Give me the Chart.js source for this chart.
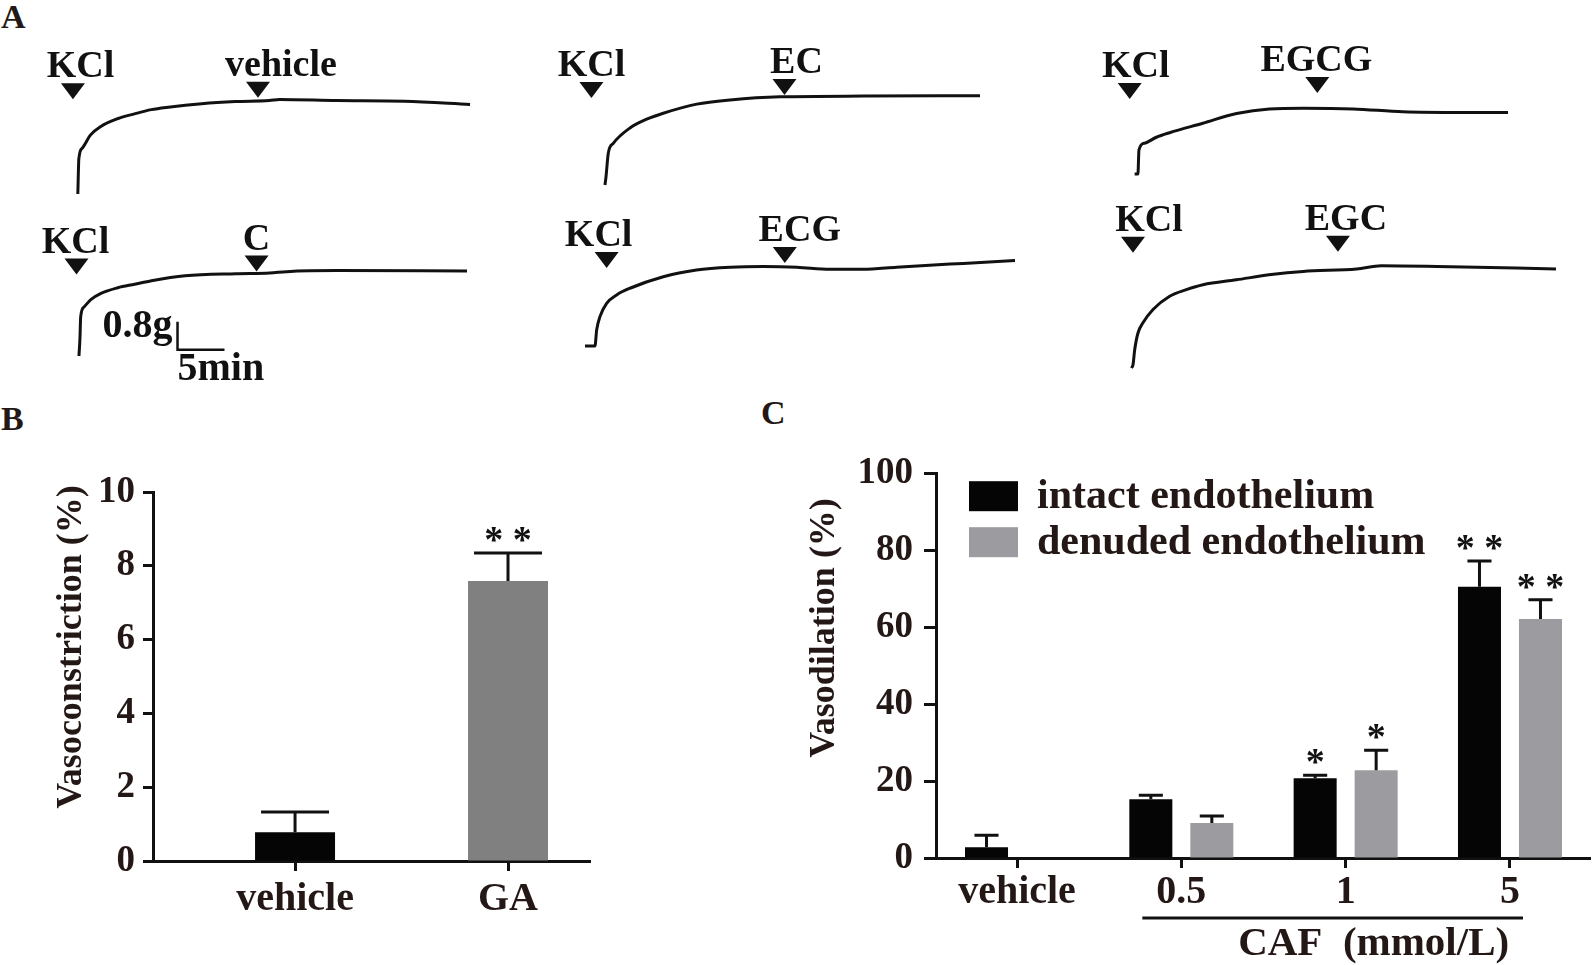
<!DOCTYPE html>
<html>
<head>
<meta charset="utf-8">
<title>Vascular tension traces and vasodilation</title>
<script src="https://cdn.jsdelivr.net/npm/chart.js@4.4.1/dist/chart.umd.min.js"></script>
<style>
  html, body { margin: 0; padding: 0; background: #fff; }
  body { width: 1594px; height: 965px; position: relative; overflow: hidden; }
  canvas { position: absolute; }
  .panel { position: absolute; font: bold 34px/34px 'Liberation Serif', 'Times New Roman', serif; color: #231815; }
</style>
</head>
<body>
<div class="panel" style="left:1px;top:0px">A</div>
<div class="panel" style="left:1px;top:402px">B</div>
<div class="panel" style="left:761px;top:396px">C</div>

<canvas id="trace-vehicle"></canvas>
<canvas id="trace-c"></canvas>
<canvas id="trace-ec"></canvas>
<canvas id="trace-ecg"></canvas>
<canvas id="trace-egcg"></canvas>
<canvas id="trace-egc"></canvas>
<canvas id="bar-b" width="600" height="525" style="left:0px;top:440px"></canvas>
<canvas id="bar-c" width="854" height="525" style="left:740px;top:440px"></canvas>

<script>
// Panel A: isometric tension traces, time (min) after KCl vs tension (g)
const vehicleTime    = [0, 0.11, 0.47, 1.36, 2.45, 4.23, 6.03, 7.83, 9.64, 13.2, 16.8, 20.4, 21.5, 27.6, 34.8, 41.8];
const vehicleTension = [0, 1.01, 1.31, 1.69, 1.93, 2.15, 2.29, 2.41, 2.48, 2.58, 2.64, 2.67, 2.70, 2.67, 2.65, 2.56];
const cTime    = [0, 0.11, 0.18, 0.54, 1.26, 2.34, 4.13, 5.93, 7.72, 11.3, 16.7, 20.3, 22.1, 27.5, 41.3];
const cTension = [0, 0.53, 1.11, 1.40, 1.61, 1.79, 1.95, 2.05, 2.15, 2.29, 2.35, 2.37, 2.41, 2.44, 2.43];
const ecTime    = [0, 0.11, 0.35, 0.88, 2.66, 4.44, 6.20, 9.76, 13.3, 18.6, 27.5, 39.9];
const ecTension = [0, 0.24, 0.91, 1.19, 1.63, 1.88, 2.05, 2.31, 2.43, 2.52, 2.54, 2.55];
const ecgTime    = [-1.06, 0, 0.18, 0.53, 1.24, 2.31, 3.72, 7.27, 10.8, 14.4, 17.9, 21.5, 25.0, 28.5, 32.1, 35.6, 39.2, 44.7];
const ecgTension = [0, 0, 0.46, 0.84, 1.22, 1.46, 1.65, 1.98, 2.17, 2.25, 2.27, 2.25, 2.19, 2.19, 2.25, 2.31, 2.36, 2.44];
const egcgTime    = [-0.35, 0, 0.11, 0.71, 1.96, 3.37, 6.91, 10.5, 14.0, 17.6, 22.9, 28.2, 34.6, 39.4];
const egcgTension = [0, 0, 0.69, 0.88, 1.05, 1.18, 1.45, 1.73, 1.86, 1.88, 1.86, 1.78, 1.76, 1.76];
const egcTime    = [-0.17, 0, 0.18, 0.53, 1.06, 2.13, 3.90, 5.68, 7.45, 11.0, 14.7, 18.1, 23.8, 26.4, 32.3, 45.0];
const egcTension = [0, 0.09, 0.52, 1.00, 1.29, 1.67, 2.05, 2.24, 2.38, 2.52, 2.67, 2.76, 2.83, 2.92, 2.90, 2.83];

// drug additions (label, minutes)
const vehicleMarks = ['KCl', 'vehicle']; const vehicleMarkTimes = [-0.52, 19.2];
const cMarks = ['KCl', 'C'];             const cMarkTimes = [-0.26, 18.9];
const ecMarks = ['KCl', 'EC'];           const ecMarkTimes = [-1.44, 19.1];
const ecgMarks = ['KCl', 'ECG'];         const ecgMarkTimes = [1.24, 20.2];
const egcgMarks = ['KCl', 'EGCG'];       const egcgMarkTimes = [-0.88, 19.1];
const egcMarks = ['KCl', 'EGC'];         const egcMarkTimes = [0, 21.8];

// scale bar
const scaleBarG = 0.8;
const scaleBarMin = 5;

// Panel B
const bCategories = ['vehicle', 'GA'];
const bMeans = [0.78, 7.59];
const bErrors = [0.55, 0.76];
const bSig = ['', '* *'];
const bTicks = [0, 2, 4, 6, 8, 10];

// Panel C
const cCategories = ['vehicle', '0.5', '1', '5'];
const intactMeans = [2.8, 15.3, 20.7, 70.5];
const intactErrors = [3.1, 1.0, 0.8, 6.7];
const intactSig = ['', '', '*', '* *'];
const denudedMeans = [null, 9.1, 22.8, 62.1];
const denudedErrors = [null, 1.8, 5.2, 5.0];
const denudedSig = ['', '', '*', '* *'];
const cTicks = [0, 20, 40, 60, 80, 100];

// ---- styling / layout ----
const INK = '#111111';
const TEXT = '#231815';
const SERIF = "'Liberation Serif', 'Times New Roman', serif";
const PX_PER_MIN = 47 / scaleBarMin;
const PX_PER_G = 28 / scaleBarG;

function traceChart(id, time, tension, marks, markTimes, lay, extra) {
  const canvas = document.getElementById(id);
  const padL = 100, padT = 170, padB = 45;
  const w = padL + Math.max(...time) * PX_PER_MIN + 30;
  const h = padT + padB;
  const left = lay.ox - padL, top = lay.oy - padT;
  canvas.width = w; canvas.height = h;
  canvas.style.left = left + 'px';
  canvas.style.top = top + 'px';

  const markers = {
    id: 'markers',
    afterDraw(chart) {
      const ctx = chart.ctx, x = chart.scales.x;
      ctx.save();
      ctx.fillStyle = INK;
      ctx.font = 'bold 38px ' + SERIF;
      ctx.textAlign = 'center';
      ctx.textBaseline = 'alphabetic';
      marks.forEach((label, i) => {
        const px = x.getPixelForValue(markTimes[i]);
        const tip = lay.tip[i] - top;
        ctx.beginPath();
        ctx.moveTo(px - 12, tip - 16);
        ctx.lineTo(px + 12, tip - 16);
        ctx.lineTo(px, tip);
        ctx.closePath();
        ctx.fill();
        ctx.fillText(label, px + lay.dx[i], tip - 22);
      });
      ctx.restore();
    }
  };

  return new Chart(canvas, {
    type: 'line',
    data: {
      datasets: [{
        data: time.map((t, i) => ({ x: t, y: tension[i] })),
        borderColor: INK,
        borderWidth: 3,
        pointRadius: 0,
        cubicInterpolationMode: 'monotone',
        fill: false
      }]
    },
    options: {
      responsive: false,
      animation: false,
      events: [],
      layout: { padding: 0 },
      plugins: { legend: { display: false }, tooltip: { enabled: false } },
      scales: {
        x: { type: 'linear', display: false, min: -padL / PX_PER_MIN, max: (w - padL) / PX_PER_MIN },
        y: { type: 'linear', display: false, min: -padB / PX_PER_G, max: padT / PX_PER_G }
      }
    },
    plugins: extra ? [markers, extra] : [markers]
  });
}

// 0.8 g / 5 min calibration bar, placed on the catechin trace
const scaleBar = {
  id: 'scaleBar',
  afterDraw(chart) {
    const { ctx, scales: { x, y } } = chart;
    const t0 = 10.49, g0 = 0.18;
    const x0 = x.getPixelForValue(t0), x1 = x.getPixelForValue(t0 + scaleBarMin);
    const y0 = y.getPixelForValue(g0), y1 = y.getPixelForValue(g0 + scaleBarG);
    ctx.save();
    ctx.strokeStyle = INK;
    ctx.lineWidth = 2.5;
    ctx.beginPath();
    ctx.moveTo(x0, y1); ctx.lineTo(x0, y0); ctx.lineTo(x1, y0);
    ctx.stroke();
    ctx.fillStyle = INK;
    ctx.font = 'bold 40px ' + SERIF;
    ctx.textBaseline = 'alphabetic';
    ctx.textAlign = 'right';
    ctx.fillText(scaleBarG + 'g', x0 - 5, y1 + 15);
    ctx.textAlign = 'left';
    ctx.fillText(scaleBarMin + 'min', x0, y0 + 30);
    ctx.restore();
  }
};

traceChart('trace-vehicle', vehicleTime, vehicleTension, vehicleMarks, vehicleMarkTimes,
  { ox: 78.4, oy: 194.3, tip: [99.5, 98], dx: [7.5, 23] });
traceChart('trace-c', cTime, cTension, cMarks, cMarkTimes,
  { ox: 79.4, oy: 356.4, tip: [275, 272], dx: [-1, 0] }, scaleBar);
traceChart('trace-ec', ecTime, ecTension, ecMarks, ecMarkTimes,
  { ox: 605, oy: 185, tip: [98, 95], dx: [0, 12] });
traceChart('trace-ecg', ecgTime, ecgTension, ecgMarks, ecgMarkTimes,
  { ox: 595, oy: 346, tip: [268, 263], dx: [-8, 15] });
traceChart('trace-egcg', egcgTime, egcgTension, egcgMarks, egcgMarkTimes,
  { ox: 1138.3, oy: 174, tip: [99, 93], dx: [6, -1] });
traceChart('trace-egc', egcTime, egcTension, egcMarks, egcMarkTimes,
  { ox: 1133.3, oy: 368.3, tip: [253, 252], dx: [16, 8] });

// ---- bar panels ----
const errorBars = {
  id: 'errorBars',
  afterDatasetsDraw(chart) {
    const { ctx, scales: { y } } = chart;
    ctx.save();
    chart.data.datasets.forEach((ds, d) => {
      const meta = chart.getDatasetMeta(d);
      meta.data.forEach((bar, i) => {
        const v = ds.data[i].y;
        if (v == null) return;
        const top = y.getPixelForValue(v + ds.errors[i]);
        const half = bar.width * ds.capRatio / 2;
        ctx.strokeStyle = INK;
        ctx.lineWidth = 3;
        ctx.beginPath();
        ctx.moveTo(bar.x, bar.y);
        ctx.lineTo(bar.x, top);
        ctx.moveTo(bar.x - half, top);
        ctx.lineTo(bar.x + half, top);
        ctx.stroke();
        if (ds.sig[i]) {
          ctx.fillStyle = INK;
          ctx.font = 'bold 38px ' + SERIF;
          ctx.textAlign = 'center';
          ctx.textBaseline = 'alphabetic';
          ctx.fillText(ds.sig[i], bar.x, top - 1);
        }
      });
    });
    ctx.restore();
  }
};

function yTitle(text, cx, cy) {
  return {
    id: 'yTitle',
    afterDraw(chart) {
      const ctx = chart.ctx;
      ctx.save();
      ctx.translate(cx, cy);
      ctx.rotate(-Math.PI / 2);
      ctx.fillStyle = TEXT;
      ctx.font = 'bold 36px ' + SERIF;
      ctx.textAlign = 'center';
      ctx.textBaseline = 'middle';
      ctx.fillText(text, 0, 0);
      ctx.restore();
    }
  };
}

function axisOpts(extra) {
  return Object.assign({
    border: { display: true, width: 3, color: INK },
    grid: { display: true, drawOnChartArea: false, drawTicks: true, offset: false, tickWidth: 3, tickColor: INK },
  }, extra);
}

const tickFont = { family: SERIF, weight: 'bold', size: 37 };
const catFont = { family: SERIF, weight: 'bold', size: 40 };

new Chart(document.getElementById('bar-b'), {
  type: 'bar',
  data: {
    datasets: [{
      label: 'Vasoconstriction',
      data: bCategories.map((c, i) => ({ x: i, y: bMeans[i] })),
      backgroundColor: ['#050505', '#808080'],
      categoryPercentage: 1,
      barPercentage: 80 / 213,
      errors: bErrors,
      sig: bSig,
      capRatio: 0.85
    }]
  },
  options: {
    responsive: false,
    animation: false,
    events: [],
    layout: { padding: { top: 52, right: 10, left: 0, bottom: 0 } },
    plugins: { legend: { display: false }, tooltip: { enabled: false } },
    scales: {
      x: axisOpts({
        type: 'linear', offset: false, min: -0.667, max: 1.385,
        afterBuildTicks: s => { s.ticks = bCategories.map((c, i) => ({ value: i })); },
        afterFit: s => { s.height = 104; },
        grid: { display: true, drawOnChartArea: false, offset: false, tickLength: 10, tickWidth: 3, tickColor: INK },
        ticks: { callback: v => bCategories[v], font: catFont, color: TEXT, padding: 5, maxRotation: 0, autoSkip: false }
      }),
      y: axisOpts({
        min: 0, max: 10,
        afterBuildTicks: s => { s.ticks = bTicks.map(v => ({ value: v })); },
        afterFit: s => { s.width = 153; },
        grid: { display: true, drawOnChartArea: false, tickLength: 10, tickWidth: 3, tickColor: INK },
        ticks: { font: tickFont, color: TEXT, padding: 8 }
      })
    }
  },
  plugins: [errorBars, yTitle('Vasoconstriction (%)', 72, 207)]
});

const cLegend = {
  id: 'cLegend',
  afterDraw(chart) {
    const { ctx, chartArea } = chart;
    ctx.save();
    ctx.font = 'bold 42px ' + SERIF;
    ctx.textBaseline = 'middle';
    ctx.textAlign = 'left';
    chart.data.datasets.forEach((ds, i) => {
      const bx = chartArea.left + 33, by = chartArea.top + 8 + i * 46;
      ctx.fillStyle = ds.backgroundColor;
      ctx.fillRect(bx, by, 49, 30);
      ctx.fillStyle = TEXT;
      ctx.fillText(ds.label, bx + 68, by + 16);
    });
    ctx.restore();
  }
};

const cafAxis = {
  id: 'cafAxis',
  afterDraw(chart) {
    const { ctx, chartArea, scales: { x } } = chart;
    const yLine = chartArea.bottom + 60;
    ctx.save();
    ctx.strokeStyle = INK;
    ctx.lineWidth = 3;
    ctx.beginPath();
    ctx.moveTo(x.getPixelForValue(1) - 39, yLine);
    ctx.lineTo(x.getPixelForValue(3) + 13, yLine);
    ctx.stroke();
    ctx.fillStyle = TEXT;
    ctx.font = 'bold 41px ' + SERIF;
    ctx.textAlign = 'center';
    ctx.textBaseline = 'alphabetic';
    ctx.fillText('CAF  (mmol/L)', x.getPixelForValue(2) + 28, chartArea.bottom + 97);
    ctx.restore();
  }
};

new Chart(document.getElementById('bar-c'), {
  type: 'bar',
  data: {
    datasets: [{
      label: 'intact endothelium',
      data: cCategories.map((c, i) => ({ x: i, y: intactMeans[i] })),
      backgroundColor: '#050505',
      categoryPercentage: 0.7425,
      barPercentage: 0.705,
      errors: intactErrors,
      sig: intactSig,
      capRatio: 0.56
    }, {
      label: 'denuded endothelium',
      data: cCategories.map((c, i) => ({ x: i, y: denudedMeans[i] })),
      backgroundColor: '#9c9ca0',
      categoryPercentage: 0.7425,
      barPercentage: 0.705,
      errors: denudedErrors,
      sig: denudedSig,
      capRatio: 0.56
    }]
  },
  options: {
    responsive: false,
    animation: false,
    events: [],
    layout: { padding: { top: 17, right: 4, left: 0, bottom: 0 } },
    plugins: { legend: { display: false }, tooltip: { enabled: false } },
    scales: {
      x: axisOpts({
        type: 'linear', offset: false, min: -0.493, max: 3.487,
        afterBuildTicks: s => { s.ticks = cCategories.map((c, i) => ({ value: i })); },
        afterFit: s => { s.height = 107; },
        grid: { display: true, drawOnChartArea: false, offset: false, tickLength: 10, tickWidth: 3, tickColor: INK },
        ticks: { callback: v => cCategories[v], font: catFont, color: TEXT, padding: 1, maxRotation: 0, autoSkip: false }
      }),
      y: axisOpts({
        min: 0, max: 100,
        afterBuildTicks: s => { s.ticks = cTicks.map(v => ({ value: v })); },
        afterFit: s => { s.width = 196; },
        grid: { display: true, drawOnChartArea: false, tickLength: 12, tickWidth: 3, tickColor: INK },
        ticks: { font: tickFont, color: TEXT, padding: 11 }
      })
    }
  },
  plugins: [errorBars, cLegend, cafAxis, yTitle('Vasodilation (%)', 85, 188)]
});
</script>
</body>
</html>
